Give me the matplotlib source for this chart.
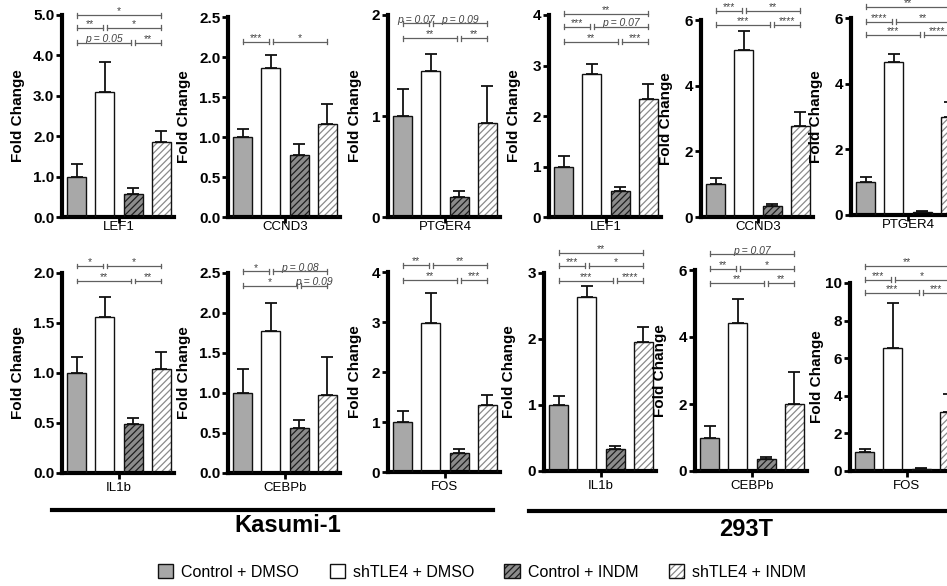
import numpy as np
import matplotlib
matplotlib.use('Agg')
import matplotlib.pyplot as plt
from matplotlib.patches import Patch
from matplotlib.lines import Line2D

plt.rcParams['font.family'] = ['Liberation Sans', 'DejaVu Sans']
plt.rcParams['hatch.linewidth'] = 0.9

W, H = 947, 586

groups = ['Control + DMSO', 'shTLE4 + DMSO', 'Control + INDM', 'shTLE4 + INDM']
genes = ['LEF1', 'CCND3', 'PTGER4', 'IL1b', 'CEBPb', 'FOS']

# Kasumi-1: mean fold change and SEM (upper bar only), one row per gene
kasumi_mean = [
    [1.0, 3.10, 0.56, 1.85],
    [1.0, 1.86, 0.77, 1.16],
    [1.0, 1.45, 0.20, 0.93],
    [1.0, 1.56, 0.49, 1.04],
    [1.0, 1.77, 0.56, 0.98],
    [1.0, 2.99, 0.38, 1.35],
]
kasumi_err = [
    [0.30, 0.74, 0.15, 0.29],
    [0.10, 0.16, 0.14, 0.25],
    [0.27, 0.16, 0.06, 0.37],
    [0.16, 0.20, 0.06, 0.17],
    [0.30, 0.35, 0.10, 0.47],
    [0.22, 0.59, 0.09, 0.20],
]
kasumi_ymax = [5.0, 2.5, 2, 2.0, 2.5, 4]
kasumi_step = [1.0, 0.5, 1, 0.5, 0.5, 1]
kasumi_fmt = ['%.1f', '%.1f', '%d', '%.1f', '%.1f', '%d']

# 293T
t293_mean = [
    [1.0, 2.83, 0.51, 2.34],
    [1.0, 5.10, 0.33, 2.76],
    [1.0, 4.67, 0.09, 2.98],
    [1.0, 2.64, 0.33, 1.96],
    [1.0, 4.43, 0.36, 2.01],
    [1.0, 6.55, 0.12, 3.15],
]
t293_err = [
    [0.21, 0.20, 0.09, 0.29],
    [0.18, 0.57, 0.06, 0.45],
    [0.17, 0.24, 0.04, 0.47],
    [0.14, 0.17, 0.05, 0.22],
    [0.33, 0.69, 0.06, 0.96],
    [0.15, 2.41, 0.05, 0.94],
]
t293_ymax = [4, 6, 6, 3, 6, 10]
t293_step = [1, 2, 2, 1, 2, 2]
t293_fmt = ['%d'] * 6

# significance brackets: (from bar, to bar, label, height in data units)
kasumi_sig = [
    [(0, 3, '*', 5.0), (0, 1, '**', 4.68), (1, 3, '*', 4.68),
     (0, 2, 'p = 0.05', 4.31), (2, 3, '**', 4.31)],
    [(0, 1, '***', 2.19), (1, 3, '*', 2.19)],
    [(0, 1, 'p = 0.07', 1.92), (1, 3, 'p = 0.09', 1.92),
     (0, 2, '**', 1.77), (2, 3, '**', 1.77)],
    [(0, 1, '*', 2.07), (1, 3, '*', 2.07), (0, 2, '**', 1.92), (2, 3, '**', 1.92)],
    [(0, 1, '*', 2.52), (1, 3, 'p = 0.08', 2.52),
     (0, 2, '*', 2.34), (2, 3, 'p = 0.09', 2.34)],
    [(0, 1, '**', 4.14), (1, 3, '**', 4.14), (0, 2, '**', 3.84), (2, 3, '***', 3.84)],
]
t293_sig = [
    [(0, 3, '**', 4.02), (0, 1, '***', 3.77), (1, 3, 'p = 0.07', 3.77),
     (0, 2, '**', 3.47), (2, 3, '***', 3.47)],
    # top bracket's label is cropped away in the source figure
    [(0, 3, '', 6.71), (0, 1, '***', 6.28), (1, 3, '**', 6.28),
     (0, 2, '***', 5.86), (2, 3, '****', 5.86)],
    [(0, 3, '**', 6.34), (0, 1, '****', 5.88), (1, 3, '**', 5.88),
     (0, 2, '***', 5.49), (2, 3, '****', 5.49)],
    [(0, 3, '**', 3.31), (0, 1, '***', 3.11), (1, 3, '*', 3.11),
     (0, 2, '***', 2.88), (2, 3, '****', 2.88)],
    [(0, 3, 'p = 0.07', 6.48), (0, 1, '**', 6.03), (1, 3, '*', 6.03),
     (0, 2, '**', 5.61), (2, 3, '**', 5.61)],
    [(0, 3, '**', 10.9), (0, 1, '***', 10.16), (1, 3, '*', 10.16),
     (0, 2, '***', 9.47), (2, 3, '***', 9.47)],
]

# panel placement in pixels: (left spine x, zero line y, top tick y)
kasumi_pos = [(62, 217, 15), (228, 217, 17), (388, 217, 15),
              (62, 473, 273), (228, 473, 273), (388, 472, 272)]
t293_pos = [(549, 217, 15), (701, 217, 20), (851, 215, 18),
            (544, 471, 273), (695, 471, 270), (850, 471, 283)]
kasumi_ylab = [44, 44, 33, 44, 44, 33]
t293_ylab = [35, 35, 35, 35, 35, 33]
AX_W = 112

face = ['#a8a8a8', 'white', '#8c8c8c', 'white']
hatches = [None, None, '/////', '/////']
hatch_col = ['none', 'none', '#1e1e1e', '#8a8a8a']
EDGE = '#111111'


def draw_panel(fig, pos, gene, mean, err, ymax, step, fmt, sig, ylab_off, xlab_off):
    left, zero, top = pos
    ax = fig.add_axes([left / W, 1 - zero / H, AX_W / W, (zero - top) / H])
    unit_px = (zero - top) / ymax
    x = np.arange(4)
    for i in range(4):
        ax.bar(x[i], mean[i], 0.68, color=face[i], edgecolor=hatch_col[i],
               hatch=hatches[i], linewidth=0, zorder=2)
        ax.bar(x[i], mean[i], 0.68, fill=False, edgecolor=EDGE, linewidth=1.0, zorder=3)
    ax.errorbar(x, mean, yerr=[np.zeros(4), err], fmt='none', ecolor=EDGE,
                elinewidth=1.3, capsize=4.3, capthick=1.3, zorder=1)

    ax.set_xlim(-0.52, 3.45)
    ax.set_ylim(0, ymax)
    for s in ['top', 'right']:
        ax.spines[s].set_visible(False)
    for s in ['left', 'bottom']:
        ax.spines[s].set_linewidth(3)
        ax.spines[s].set_color('black')

    n = int(round(ymax / step))
    ticks = [k * step for k in range(n + 1)]
    ax.set_yticks(ticks)
    ax.set_yticklabels([fmt % t for t in ticks], fontweight='bold', fontsize=11)
    ax.tick_params(axis='y', length=4, width=2, pad=1.5)
    ax.set_xticks([1.5])
    ax.set_xticklabels([''])
    ax.tick_params(axis='x', length=4, width=2)

    ax.text(-ylab_off / AX_W, 0.5, 'Fold Change', transform=ax.transAxes, rotation=90,
            ha='center', va='center', fontsize=11, fontweight='bold')
    ax.annotate(gene, xy=(1.5, 0), xycoords=('data', 'axes fraction'),
                xytext=(0, -xlab_off * 0.72), textcoords='offset points',
                ha='center', va='center', fontsize=9.5)

    tick_h = 2.5 / unit_px
    for i, j, label, level in sig:
        x0, x1 = i, j
        for k, l, _, lev in sig:
            if lev == level and (k, l) != (i, j):
                if l == i:
                    x0 = i + 0.08
                if k == j:
                    x1 = j - 0.08
        kw = dict(color='#606060', lw=0.9, clip_on=False, zorder=4)
        ax.plot([x0, x1], [level, level], **kw)
        ax.plot([x0, x0], [level - tick_h, level + tick_h], **kw)
        ax.plot([x1, x1], [level - tick_h, level + tick_h], **kw)
        if not label:
            continue
        ital = label.startswith('p')
        ax.annotate(label, xy=((x0 + x1) / 2, level), xytext=(0, 0.3 if ital else 0.5),
                    textcoords='offset points', ha='center', va='baseline',
                    fontsize=7.5, color='#444444', style='italic' if ital else 'normal',
                    annotation_clip=False)
    return ax


fig = plt.figure(figsize=(W / 100, H / 100), dpi=100)

for g in range(6):
    xoff = 10 if g < 3 else 15
    draw_panel(fig, kasumi_pos[g], genes[g], kasumi_mean[g], kasumi_err[g],
               kasumi_ymax[g], kasumi_step[g], kasumi_fmt[g], kasumi_sig[g],
               kasumi_ylab[g], xoff)
    draw_panel(fig, t293_pos[g], genes[g], t293_mean[g], t293_err[g],
               t293_ymax[g], t293_step[g], t293_fmt[g], t293_sig[g],
               t293_ylab[g], xoff)

# cell line bars and names
fig.add_artist(Line2D([52 / W, 493 / W], [1 - 509.5 / H] * 2, lw=3, color='black'))
fig.add_artist(Line2D([529 / W, 1.0], [1 - 510.5 / H] * 2, lw=3, color='black'))
fig.text(288 / W, 1 - 526 / H, 'Kasumi-1', ha='center', va='center',
         fontsize=17, fontweight='bold')
fig.text(746 / W, 1 - 530 / H, '293T', ha='center', va='center',
         fontsize=17, fontweight='bold')

handles = []
for i in range(4):
    fill = Patch(facecolor=face[i], edgecolor=hatch_col[i], hatch=hatches[i], linewidth=0)
    edge = Patch(fill=False, edgecolor=EDGE, linewidth=1.0)
    handles.append((fill, edge))
fig.legend(handles, groups, loc='center', bbox_to_anchor=(482 / W, 1 - 572 / H),
           ncol=4, frameon=False, fontsize=11.5, handlelength=0.95, handleheight=0.95,
           handletextpad=0.5, columnspacing=1.9)

fig.savefig('out.png', dpi=100)
